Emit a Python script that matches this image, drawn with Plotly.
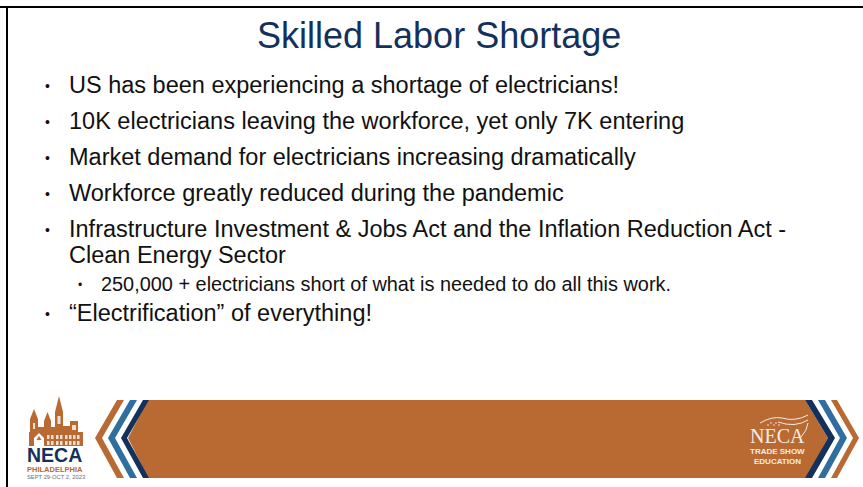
import plotly.graph_objects as go

TITLE = "Skilled Labor Shortage"
BULLETS = [
    "US has been experiencing a shortage of electricians!",
    "10K electricians leaving the workforce, yet only 7K entering",
    "Market demand for electricians increasing dramatically",
    "Workforce greatly reduced during the pandemic",
    "Infrastructure Investment & Jobs Act and the Inflation Reduction Act -",
    "\u201cElectrification\u201d of everything!",
]
BULLET_Y = [85, 121, 157, 193, 229, 313]
CONTINUATION = "Clean Energy Sector"
SUB_BULLET = "250,000 + electricians short of what is needed to do all this work."
LOGO_NAME = "NECA"
LOGO_CITY = "PHILADELPHIA"
LOGO_DATES = "SEPT 29-OCT 2, 2023"
BADGE_LINES = ["TRADE SHOW", "EDUCATION"]

ORANGE = "#B96A33"
BLUE = "#2F6E9E"
NAVY = "#14315C"
CREAM = "#F4EDE4"
FONT = "Liberation Sans"

fig = go.Figure()
shapes = []


def poly(points, color):
    path = "M " + " L ".join(f"{x},{y}" for x, y in points) + " Z"
    shapes.append(dict(type="path", path=path, fillcolor=color, line_width=0, layer="above"))


def rect(x0, y0, x1, y1, color):
    shapes.append(dict(type="rect", x0=x0, y0=y0, x1=x1, y1=y1, fillcolor=color, line_width=0, layer="above"))


def curve(path, width=1):
    shapes.append(dict(type="path", path=path, line=dict(color=CREAM, width=width), layer="above"))


def text(x, y, s, size, color="#111111", anchor="left", family=FONT, bold=False):
    fig.add_annotation(
        x=x, y=y, xref="x", yref="y", text=f"<b>{s}</b>" if bold else s, showarrow=False,
        xanchor=anchor, yanchor="middle", align=anchor, borderpad=0,
        font=dict(family=family, size=size, color=color),
    )


# slide frame
rect(0, 6, 863, 8, "#000000")
rect(6, 6, 8, 487, "#000000")

# centre band
poly([(148, 400), (805, 400), (828, 438), (806, 478), (148, 478), (128, 438)], ORANGE)

# left chevrons
for top, tip, w, c in [(143, 121, 6, NAVY), (130, 108, 7, BLUE), (117, 95, 7, ORANGE)]:
    poly([(top, 400), (top + w, 400), (tip + w, 438), (top + w, 478), (top, 478), (tip, 438)], c)
# right chevrons
for top, tip, w, c in [(805, 828, 7, NAVY), (818, 840, 7, BLUE), (831, 853, 6, ORANGE)]:
    poly([(top, 400), (top + w, 400), (tip + w, 438), (top + w, 478), (top, 478), (tip, 438)], c)

# Philadelphia skyline logo
rect(29, 432, 83, 446, ORANGE)
rect(30, 419, 38, 432, ORANGE)
poly([(30, 419), (34, 409), (38, 419)], ORANGE)
rect(44, 421, 51, 432, ORANGE)
poly([(44, 421), (47.5, 412), (51, 421)], ORANGE)
rect(38, 427, 55, 432, ORANGE)
rect(55, 412, 63, 432, ORANGE)
poly([(55, 412), (59, 396), (63, 412)], ORANGE)
rect(63, 426, 70, 432, ORANGE)
rect(70, 421, 78, 432, ORANGE)
poly([(34, 446), (34, 438), (39, 433), (44, 438), (44, 446)], "#FFFFFF")
poly([(36.5, 440), (39, 436), (41.5, 440)], ORANGE)
for wx in (47, 51, 56, 60, 65, 69, 73, 77):
    rect(wx, 435, wx + 2.5, 439, "#F3DFCF")
    rect(wx, 441, wx + 2.5, 445, "#F3DFCF")
rect(57.5, 416, 60.5, 424, "#F3DFCF")
rect(33, 423, 35, 429, "#F3DFCF")
rect(72, 425, 76, 430, "#F3DFCF")
text(54.5, 455, LOGO_NAME, 19.5, NAVY, "center", bold=True)
text(54.5, 469, LOGO_CITY, 7.5, ORANGE, "center", bold=True)
text(55.5, 476.5, LOGO_DATES, 5.8, "#6E6E6E", "center")

# badge on band
text(777, 436, LOGO_NAME, 20, CREAM, "center", family="Liberation Serif")
text(777, 451, BADGE_LINES[0], 8, CREAM, "center", bold=True)
text(777, 461.5, BADGE_LINES[1], 8, CREAM, "center", bold=True)
curve("M 760,423 Q 772,416 782,418 Q 795,422 808,415")
curve("M 778,422 Q 795,428 808,420")
curve("M 808,423 Q 807,431 801,437")
for sx, sy in [(768, 425), (771, 423), (774, 425), (776, 423), (779, 425)]:
    shapes.append(dict(type="circle", x0=sx - 0.8, y0=sy - 0.8, x1=sx + 0.8, y1=sy + 0.8,
                       fillcolor=CREAM, line_width=0, layer="above"))

# slide text
text(439, 35, TITLE, 36, "#14315C", "center")
for s, y in zip(BULLETS, BULLET_Y):
    text(47, y + 1, "\u2022", 14, "#111111", "center")
    text(68, y, s, 23.5)
text(68, 255, CONTINUATION, 23.5)
text(80, 285, "\u2022", 12, "#111111", "center")
text(100, 284, SUB_BULLET, 19.9)

fig.update_layout(
    width=863, height=487, margin=dict(l=0, r=0, t=0, b=0),
    paper_bgcolor="white", plot_bgcolor="white", showlegend=False, shapes=shapes,
    xaxis=dict(range=[0, 863], visible=False, fixedrange=True),
    yaxis=dict(range=[487, 0], visible=False, fixedrange=True),
)
fig.write_html(
    "out.html",
    config=dict(displayModeBar=False),
    post_script="document.body.style.margin='0';document.body.style.overflow='hidden';",
)
